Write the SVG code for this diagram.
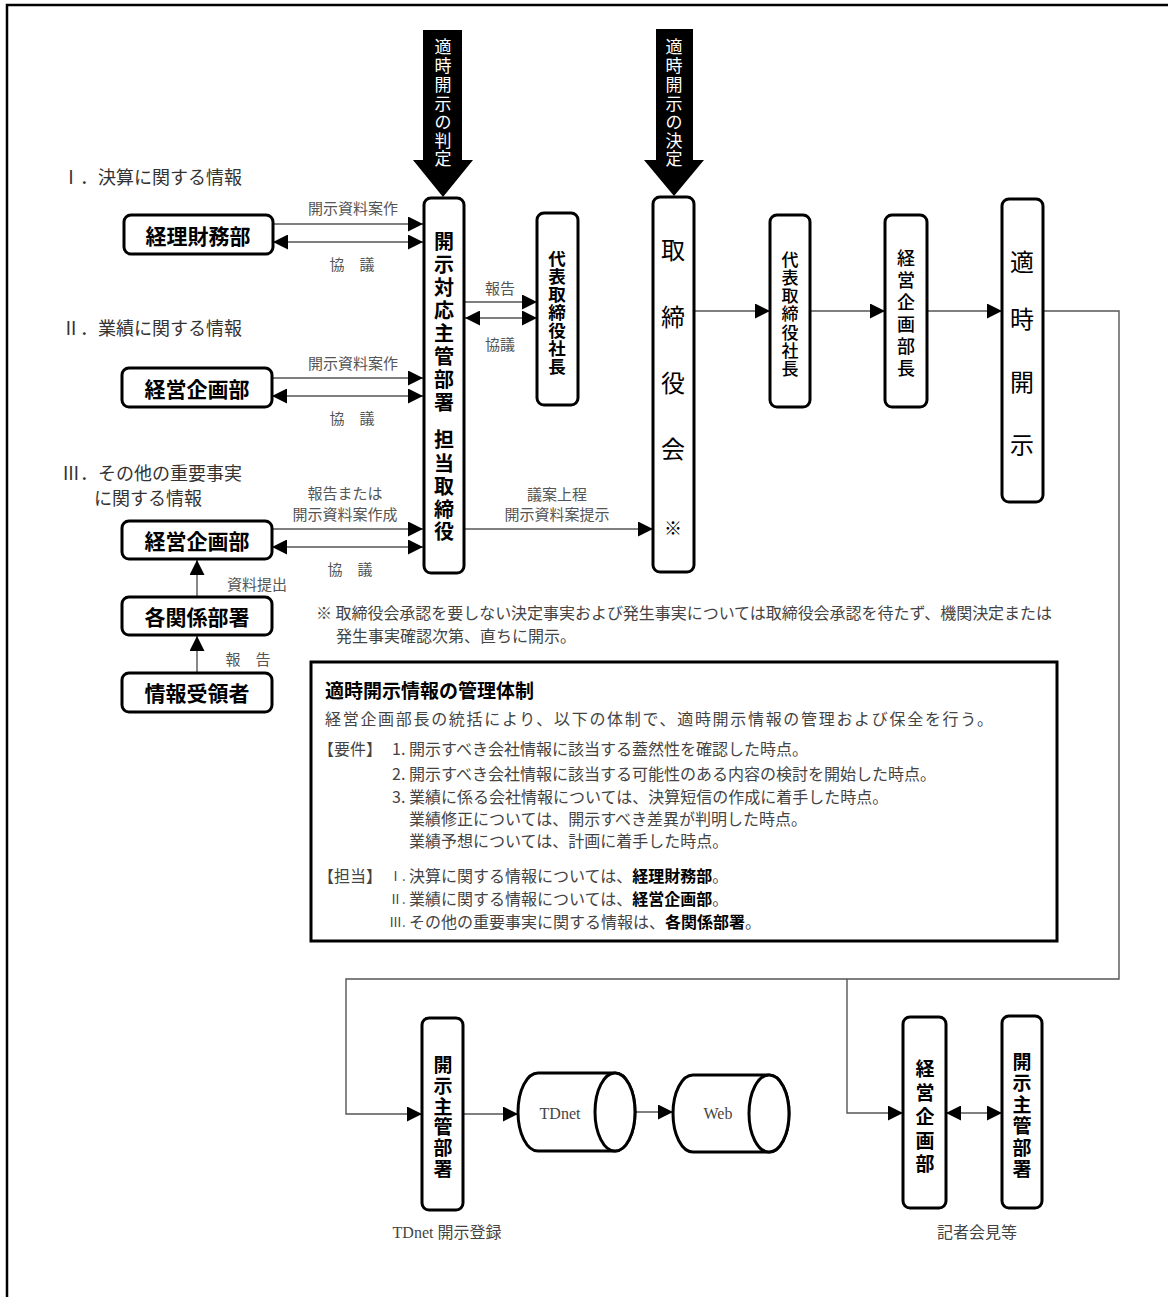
<svg xmlns="http://www.w3.org/2000/svg" width="1168" height="1297" viewBox="0 0 1168 1297">
<style>
.frame{fill:none;stroke:#000;stroke-width:2.5}
.box{fill:#fff;stroke:#000;stroke-width:3}
.t{font-family:"Noto Sans CJK JP","Noto Sans",sans-serif;dominant-baseline:central}
.nb{font-weight:bold;fill:#000;text-anchor:middle}
.nr{font-weight:normal;fill:#000;text-anchor:middle}
.lbl{fill:#555;font-size:15px;text-anchor:middle}
.hd{fill:#333;font-size:18px}
.body{fill:#444;font-size:16px}
.wt{fill:#fff;font-size:17px;text-anchor:middle}
.conn{fill:none;stroke:#555;stroke-width:1.4}
.serif{font-family:"Liberation Serif","Noto Sans CJK JP",serif;fill:#444;font-size:16px;text-anchor:middle;dominant-baseline:central}
</style>
<defs>
<marker id="ah" viewBox="0 0 10 10" refX="10" refY="5" markerWidth="15" markerHeight="15" markerUnits="userSpaceOnUse" orient="auto-start-reverse">
<path d="M0,0 L10,5 L0,10 Z" fill="#000"/>
</marker>
</defs>
<rect width="1168" height="1297" fill="#fff"/>
<path class="frame" d="M7,1297 V5 H1168"/>

<g id="judge-arrow">
<path d="M423,30 H462 V160 H473 L443,197 L413,160 H423 Z" fill="#000"/>
<text class="t wt"><tspan x="443" y="45">適</tspan><tspan x="443" y="64">時</tspan><tspan x="443" y="83">開</tspan><tspan x="443" y="102">示</tspan><tspan x="443" y="120">の</tspan><tspan x="443" y="139">判</tspan><tspan x="443" y="157">定</tspan></text>
</g>
<g id="decide-arrow">
<path d="M656,29 H693 V160 H704 L674,196 L644,160 H656 Z" fill="#000"/>
<text class="t wt"><tspan x="674" y="45">適</tspan><tspan x="674" y="64">時</tspan><tspan x="674" y="83">開</tspan><tspan x="674" y="102">示</tspan><tspan x="674" y="120">の</tspan><tspan x="674" y="139">決</tspan><tspan x="674" y="157">定</tspan></text>
</g>

<g id="headings">
<text class="t hd" x="62" y="176">Ⅰ．決算に関する情報</text>
<text class="t hd" x="62" y="327">Ⅱ．業績に関する情報</text>
<text class="t hd" x="62" y="472">Ⅲ．その他の重要事実</text>
<text class="t hd" x="94" y="497">に関する情報</text>
</g>

<g id="connectors">
<line class="conn" x1="273" y1="224" x2="423" y2="224" marker-end="url(#ah)"/>
<line class="conn" x1="273" y1="242" x2="423" y2="242" marker-start="url(#ah)" marker-end="url(#ah)"/>
<line class="conn" x1="272" y1="378" x2="423" y2="378" marker-end="url(#ah)"/>
<line class="conn" x1="272" y1="396" x2="423" y2="396" marker-start="url(#ah)" marker-end="url(#ah)"/>
<line class="conn" x1="272" y1="529" x2="423" y2="529" marker-end="url(#ah)"/>
<line class="conn" x1="272" y1="547" x2="423" y2="547" marker-start="url(#ah)" marker-end="url(#ah)"/>
<line class="conn" x1="197" y1="597" x2="197" y2="560" marker-end="url(#ah)"/>
<line class="conn" x1="197" y1="673" x2="197" y2="636" marker-end="url(#ah)"/>
<line class="conn" x1="465" y1="302" x2="537" y2="302" marker-end="url(#ah)"/>
<line class="conn" x1="465" y1="318" x2="537" y2="318" marker-start="url(#ah)" marker-end="url(#ah)"/>
<line class="conn" x1="465" y1="529" x2="653" y2="529" marker-end="url(#ah)"/>
<line class="conn" x1="694" y1="311" x2="770" y2="311" marker-end="url(#ah)"/>
<line class="conn" x1="810" y1="311" x2="885" y2="311" marker-end="url(#ah)"/>
<line class="conn" x1="927" y1="311" x2="1002" y2="311" marker-end="url(#ah)"/>
<polyline class="conn" points="1043,311 1119,311 1119,979 346,979 346,1114 422,1114" marker-end="url(#ah)"/>
<polyline class="conn" points="847,979 847,1113 903,1113" marker-end="url(#ah)"/>
<line class="conn" x1="463" y1="1114" x2="518" y2="1114" marker-end="url(#ah)"/>
<line x1="618" y1="1112" x2="673" y2="1112" stroke="#000" stroke-width="1.2" marker-end="url(#ah)"/>
<line class="conn" x1="946" y1="1113" x2="1002" y2="1113" marker-start="url(#ah)" marker-end="url(#ah)"/>
</g>

<g id="conn-labels">
<text class="t lbl" x="353" y="207">開示資料案作</text>
<text class="t lbl" x="352" y="263">協　議</text>
<text class="t lbl" x="353" y="362">開示資料案作</text>
<text class="t lbl" x="352" y="417">協　議</text>
<text class="t lbl" x="345" y="492">報告または</text>
<text class="t lbl" x="345" y="513">開示資料案作成</text>
<text class="t lbl" x="350" y="568">協　議</text>
<text class="t lbl" x="257" y="583">資料提出</text>
<text class="t lbl" x="248" y="658">報　告</text>
<text class="t lbl" x="500" y="287">報告</text>
<text class="t lbl" x="500" y="343">協議</text>
<text class="t lbl" x="557" y="493">議案上程</text>
<text class="t lbl" x="557" y="513">開示資料案提示</text>
</g>

<g id="n-keiri">
<rect class="box" x="124" y="215" width="149" height="39" rx="7"/>
<text class="t nb" x="198" y="235" font-size="21">経理財務部</text>
</g>
<g id="n-keiei2">
<rect class="box" x="122" y="368" width="150" height="39" rx="7"/>
<text class="t nb" x="197" y="388" font-size="21">経営企画部</text>
</g>
<g id="n-keiei3">
<rect class="box" x="122" y="521" width="150" height="38" rx="7"/>
<text class="t nb" x="197" y="540" font-size="21">経営企画部</text>
</g>
<g id="n-kakukankei">
<rect class="box" x="122" y="597" width="150" height="38" rx="7"/>
<text class="t nb" x="197" y="616" font-size="21">各関係部署</text>
</g>
<g id="n-jouhou">
<rect class="box" x="122" y="673" width="150" height="39" rx="7"/>
<text class="t nb" x="197" y="692" font-size="21">情報受領者</text>
</g>

<g id="n-main">
<rect class="box" x="424" y="198" width="40" height="375" rx="7"/>
<text class="t nb" font-size="20"><tspan x="444" y="240">開</tspan><tspan x="444" y="263">示</tspan><tspan x="444" y="286">対</tspan><tspan x="444" y="309">応</tspan><tspan x="444" y="332">主</tspan><tspan x="444" y="355">管</tspan><tspan x="444" y="378">部</tspan><tspan x="444" y="401">署</tspan><tspan x="444" y="438">担</tspan><tspan x="444" y="462">当</tspan><tspan x="444" y="485">取</tspan><tspan x="444" y="508">締</tspan><tspan x="444" y="530">役</tspan></text>
</g>
<g id="n-president1">
<rect class="box" x="537" y="213" width="41" height="192" rx="7"/>
<text class="t nb" font-size="17.5"><tspan x="557" y="257">代</tspan><tspan x="557" y="275">表</tspan><tspan x="557" y="293">取</tspan><tspan x="557" y="311">締</tspan><tspan x="557" y="329">役</tspan><tspan x="557" y="347">社</tspan><tspan x="557" y="365">長</tspan></text>
</g>
<g id="n-board">
<rect class="box" x="653" y="197" width="41" height="375" rx="7"/>
<text class="t nr" font-size="24"><tspan x="673" y="248">取</tspan><tspan x="673" y="315">締</tspan><tspan x="673" y="381">役</tspan><tspan x="673" y="447">会</tspan><tspan x="673" y="527" font-size="18">※</tspan></text>
</g>
<g id="n-president2">
<rect class="box" x="770" y="215" width="40" height="192" rx="7"/>
<text class="t nr" font-size="17" style="font-weight:500"><tspan x="790" y="258">代</tspan><tspan x="790" y="276">表</tspan><tspan x="790" y="294">取</tspan><tspan x="790" y="312">締</tspan><tspan x="790" y="331">役</tspan><tspan x="790" y="349">社</tspan><tspan x="790" y="367">長</tspan></text>
</g>
<g id="n-keieichou">
<rect class="box" x="885" y="215" width="42" height="192" rx="7"/>
<text class="t nr" font-size="18" style="font-weight:500"><tspan x="906" y="257">経</tspan><tspan x="906" y="279">営</tspan><tspan x="906" y="301">企</tspan><tspan x="906" y="323">画</tspan><tspan x="906" y="345">部</tspan><tspan x="906" y="367">長</tspan></text>
</g>
<g id="n-tekiji">
<rect class="box" x="1002" y="199" width="41" height="303" rx="7"/>
<text class="t nr" font-size="24"><tspan x="1022" y="260">適</tspan><tspan x="1022" y="317">時</tspan><tspan x="1022" y="380">開</tspan><tspan x="1022" y="443">示</tspan></text>
</g>

<g id="note">
<text class="t body" x="316" y="612" textLength="736" lengthAdjust="spacing">※ 取締役会承認を要しない決定事実および発生事実については取締役会承認を待たず、機関決定または</text>
<text class="t body" x="336" y="635">発生事実確認次第、直ちに開示。</text>
</g>

<g id="mgmt-box">
<rect x="311" y="662" width="746" height="279" fill="#fff" stroke="#000" stroke-width="3"/>
<text class="t" x="325" y="689" font-size="19" font-weight="bold" fill="#000">適時開示情報の管理体制</text>
<text class="t body" x="325" y="718" textLength="668" lengthAdjust="spacing">経営企画部長の統括により、以下の体制で、適時開示情報の管理および保全を行う。</text>
<text class="t body" y="748"><tspan x="318">【要件】</tspan><tspan x="392">1.</tspan><tspan x="409">開示すべき会社情報に該当する蓋然性を確認した時点。</tspan></text>
<text class="t body" y="773"><tspan x="392">2.</tspan><tspan x="409">開示すべき会社情報に該当する可能性のある内容の検討を開始した時点。</tspan></text>
<text class="t body" y="796"><tspan x="392">3.</tspan><tspan x="409">業績に係る会社情報については、決算短信の作成に着手した時点。</tspan></text>
<text class="t body" x="409" y="818">業績修正については、開示すべき差異が判明した時点。</text>
<text class="t body" x="409" y="840">業績予想については、計画に着手した時点。</text>
<text class="t body" y="875"><tspan x="318">【担当】</tspan><tspan x="389" font-size="13">Ⅰ.</tspan><tspan x="409">決算に関する情報については、</tspan><tspan fill="#000" font-weight="bold">経理財務部</tspan>。</text>
<text class="t body" y="898"><tspan x="389" font-size="13">Ⅱ.</tspan><tspan x="409">業績に関する情報については、</tspan><tspan fill="#000" font-weight="bold">経営企画部</tspan>。</text>
<text class="t body" y="921"><tspan x="389" font-size="13">Ⅲ.</tspan><tspan x="409">その他の重要事実に関する情報は、</tspan><tspan fill="#000" font-weight="bold">各関係部署</tspan>。</text>
</g>

<g id="n-kaiji-left">
<rect class="box" x="422" y="1018" width="41" height="192" rx="7"/>
<text class="t nb" font-size="19"><tspan x="443" y="1063">開</tspan><tspan x="443" y="1084">示</tspan><tspan x="443" y="1105">主</tspan><tspan x="443" y="1125">管</tspan><tspan x="443" y="1146">部</tspan><tspan x="443" y="1167">署</tspan></text>
</g>
<g id="n-tdnet">
<path d="M538,1073 H615 A20,39 0 0 1 615,1151 H538 A20,39 0 0 1 538,1073 Z" fill="#fff" stroke="#000" stroke-width="3"/>
<ellipse cx="615" cy="1112" rx="20" ry="39" fill="#fff" stroke="#000" stroke-width="3"/>
<text class="serif" x="560" y="1113">TDnet</text>
</g>
<g id="n-web">
<path d="M693,1075 H769 A20,38.5 0 0 1 769,1152 H693 A20,38.5 0 0 1 693,1075 Z" fill="#fff" stroke="#000" stroke-width="3"/>
<ellipse cx="769" cy="1113.5" rx="20" ry="38.5" fill="#fff" stroke="#000" stroke-width="3"/>
<text class="serif" x="718" y="1113">Web</text>
</g>
<g id="n-keiei-bottom">
<rect class="box" x="903" y="1017" width="43" height="191" rx="7"/>
<text class="t nb" font-size="19"><tspan x="925" y="1067">経</tspan><tspan x="925" y="1091">営</tspan><tspan x="925" y="1115">企</tspan><tspan x="925" y="1139">画</tspan><tspan x="925" y="1162">部</tspan></text>
</g>
<g id="n-kaiji-right">
<rect class="box" x="1002" y="1016" width="40" height="192" rx="7"/>
<text class="t nb" font-size="19"><tspan x="1022" y="1060">開</tspan><tspan x="1022" y="1081">示</tspan><tspan x="1022" y="1103">主</tspan><tspan x="1022" y="1124">管</tspan><tspan x="1022" y="1146">部</tspan><tspan x="1022" y="1167">署</tspan></text>
</g>
<g id="bottom-labels">
<text class="serif" x="447" y="1232">TDnet 開示登録</text>
<text class="serif" x="977" y="1232">記者会見等</text>
</g>
</svg>
